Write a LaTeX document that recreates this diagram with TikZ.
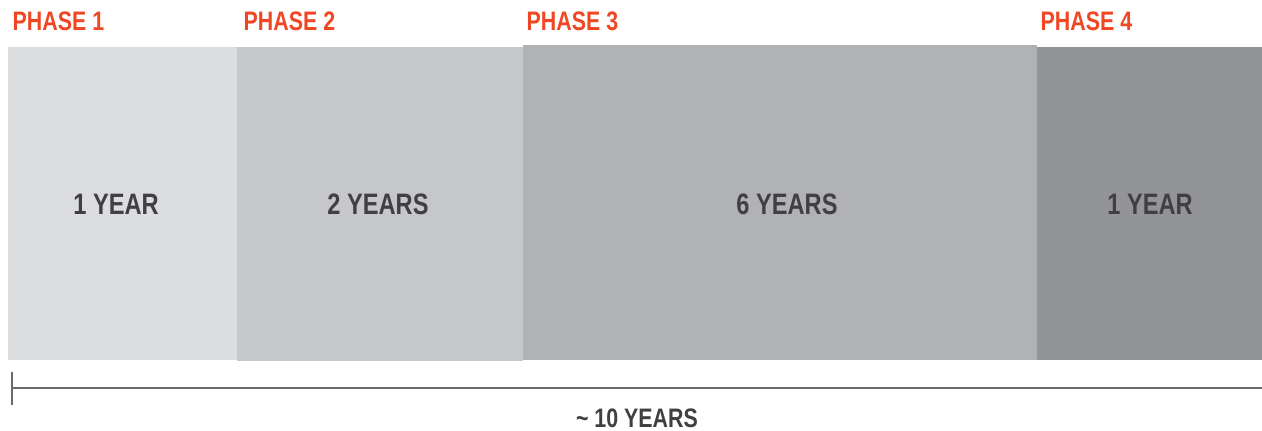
\documentclass[tikz,border=0pt]{standalone}
\usepackage{fontspec}
\newfontfamily\condfont{Liberation Sans}[FakeStretch=0.8]
\definecolor{phaseorange}{HTML}{EF4623}
\definecolor{textgray}{HTML}{404042}
\definecolor{linegray}{HTML}{6A6A6C}
\definecolor{grayA}{HTML}{DCDDDF}
\definecolor{grayB}{HTML}{C6C7C9}
\definecolor{grayC}{HTML}{B1B2B6}
\definecolor{grayD}{HTML}{939498}
\begin{document}
\begin{tikzpicture}[x=0.01cm, y=-0.01cm, line join=round,
	phase/.style={anchor=base west, inner sep=0pt, text=phaseorange, font=\condfont\bfseries\fontsize{7.6}{9}\selectfont},
	span/.style={inner sep=0pt, text=textgray, font=\condfont\bfseries\fontsize{8.4}{10}\selectfont}]
			\useasboundingbox (0,0) rectangle (1262,431);
			% phase blocks
			\fill[grayA] (8,47) rectangle (237,360);
			\fill[grayB] (237,47) rectangle (523,361);
			\fill[grayC] (523,45) rectangle (1037,360);
			\fill[grayD] (1037,47) rectangle (1262,360);
			\node[phase] (p1) at (12,31) {PHASE 1};
			\node[phase] (p2) at (243,31) {PHASE 2};
			\node[phase] (p3) at (526,31) {PHASE 3};
			\node[phase] (p4) at (1040,31) {PHASE 4};
			\node[span] (y1) at (116,204) {1 YEAR};
			\node[span] (y2) at (378,204) {2 YEARS};
			\node[span] (y3) at (787,204) {6 YEARS};
			\node[span] (y4) at (1150,204) {1 YEAR};
			% time line
			\coordinate (tl) at (12,388);
			\coordinate (tr) at (1262,388);
			\draw[linegray, line width=0.6pt] (tl) -- (tr);
			\draw[linegray, line width=0.4pt] (12,372) -- (12,405);
			\node[span, anchor=base, font=\condfont\bfseries\fontsize{7.6}{9}\selectfont] (total) at (637,428) {\char`~\ 10 YEARS};
	\end{tikzpicture}
\end{document}
